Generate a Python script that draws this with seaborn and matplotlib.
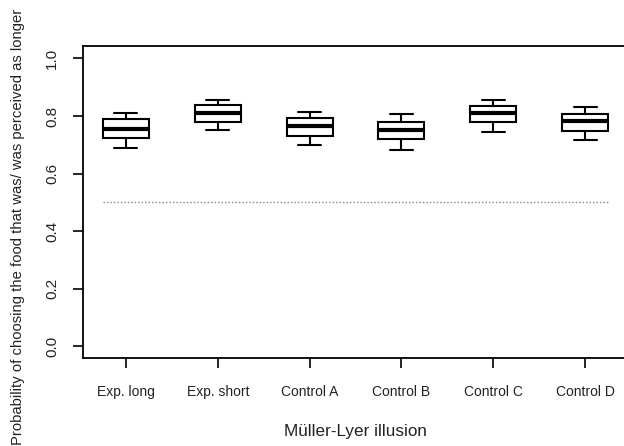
import matplotlib
matplotlib.use("Agg")
import matplotlib.pyplot as plt
import seaborn as sns
import pandas as pd

sns.set_style("white")
plt.rcParams['font.family'] = ['Liberation Sans', 'DejaVu Sans']

categories = ["Exp. long", "Exp. short", "Control A", "Control B", "Control C", "Control D"]
# five-number summaries: min, Q1, median, Q3, max
exp_long = [0.690, 0.723, 0.756, 0.788, 0.809]
exp_short = [0.750, 0.779, 0.811, 0.837, 0.857]
control_a = [0.699, 0.731, 0.765, 0.792, 0.814]
control_b = [0.682, 0.720, 0.752, 0.780, 0.806]
control_c = [0.745, 0.779, 0.811, 0.836, 0.857]
control_d = [0.715, 0.749, 0.783, 0.806, 0.832]
chance_level = 0.5
yticks = [0.0, 0.2, 0.4, 0.6, 0.8, 1.0]

series = [exp_long, exp_short, control_a, control_b, control_c, control_d]
df = pd.DataFrame({
    "group": [c for c, vals in zip(categories, series) for _ in vals],
    "value": [v for vals in series for v in vals],
})

fig = plt.figure(figsize=(6.24, 4.46), dpi=100)
ax = fig.add_axes([83/624, 87.7/446, (628-83)/624, (358.3-45.7)/446])

sns.boxplot(data=df, x="group", y="value", order=categories, ax=ax,
            width=0.5, whis=(0, 100), color="white", linecolor="black",
            linewidth=1.5, showfliers=False,
            medianprops=dict(linewidth=3, color="black"))

ax.hlines(chance_level, -0.25, 5.25, colors="#888888", linestyles=(0, (1, 1.5)), linewidth=1.0)

ax.set_xlim(-0.468, 5.468)
ax.set_ylim(-0.041, 1.044)
ax.set_yticks(yticks)
ax.set_yticklabels([f"{t:.1f}" for t in yticks])

for s in ax.spines.values():
    s.set_visible(True)
    s.set_color("black")
    s.set_linewidth(1.3)

ax.tick_params(axis='both', which='both', direction='out', length=7.2, width=1.2, color='black',
               left=True, bottom=True)
ax.tick_params(axis='y', labelsize=11, pad=10, labelrotation=90, labelcolor='#222222')
ax.tick_params(axis='x', labelsize=10, pad=12, labelcolor='#222222')
for lab in ax.get_yticklabels():
    lab.set_va('center')

ax.set_xlabel("Müller-Lyer illusion", fontsize=12.3, color='#222222')
ax.xaxis.set_label_coords(0.5, -0.2326)
ax.xaxis.label.set_va('center')
ax.set_ylabel("Probability of choosing the food that was/ was perceived as longer", fontsize=10.75, color='#222222')
ax.yaxis.set_label_coords(-0.119, 0.42)
ax.yaxis.label.set_va('center')

fig.savefig("out.png", dpi=100)
